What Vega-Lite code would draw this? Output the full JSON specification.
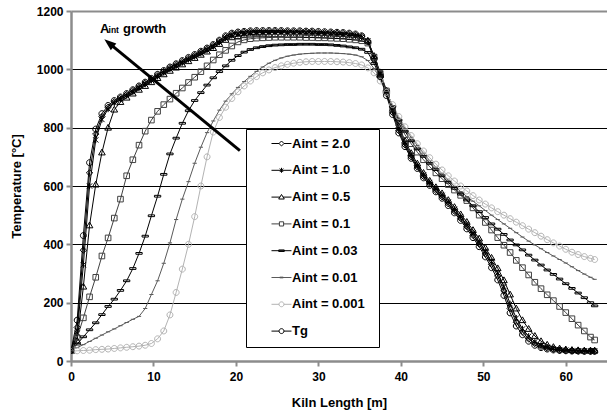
{
  "$schema": "https://vega.github.io/schema/vega-lite/v6.json",
  "width": 536,
  "height": 350,
  "autosize": {"type": "none"},
  "padding": {"left": 71, "top": 11, "right": 0, "bottom": 55},
  "config": {"view": {"stroke": null}, "font": "Liberation Sans"},
  "resolve": {"scale": {"shape": "independent", "color": "independent"}, "legend": {"shape": "independent", "color": "independent"}},
  "datasets": {
    "kiln": [
      {"x":0,"a2":35,"a1":35,"a05":35,"a01":35,"a003":35,"a001":35,"a0001":33,"tg":35},
      {"x":0.75,"a2":115,"a1":95,"a05":70,"a01":80,"a003":58,"a001":46,"a0001":35,"tg":140},
      {"x":1.5,"a2":380,"a1":330,"a05":255,"a01":148,"a003":83,"a001":56,"a0001":36,"tg":430},
      {"x":2.25,"a2":645,"a1":600,"a05":465,"a01":220,"a003":107,"a001":67,"a0001":37,"tg":680},
      {"x":3,"a2":778,"a1":758,"a05":605,"a01":287,"a003":131,"a001":78,"a0001":39,"tg":795},
      {"x":3.75,"a2":838,"a1":828,"a05":715,"a01":360,"a003":159,"a001":89,"a0001":40,"tg":848},
      {"x":4.5,"a2":870,"a1":864,"a05":800,"a01":422,"a003":187,"a001":100,"a0001":41,"tg":876},
      {"x":5.25,"a2":889,"a1":885,"a05":862,"a01":490,"a003":212,"a001":110,"a0001":43,"tg":893},
      {"x":6,"a2":902,"a1":898,"a05":888,"a01":555,"a003":242,"a001":121,"a0001":45,"tg":905},
      {"x":6.75,"a2":914,"a1":910,"a05":903,"a01":635,"a003":275,"a001":132,"a0001":47,"tg":917},
      {"x":7.5,"a2":927,"a1":923,"a05":917,"a01":690,"a003":317,"a001":143,"a0001":49,"tg":930},
      {"x":8.25,"a2":940,"a1":936,"a05":930,"a01":740,"a003":369,"a001":153,"a0001":51,"tg":943},
      {"x":9,"a2":953,"a1":949,"a05":943,"a01":788,"a003":428,"a001":180,"a0001":54,"tg":956},
      {"x":9.75,"a2":966,"a1":962,"a05":956,"a01":826,"a003":498,"a001":228,"a0001":60,"tg":969},
      {"x":10.5,"a2":980,"a1":976,"a05":970,"a01":856,"a003":565,"a001":275,"a0001":76,"tg":983},
      {"x":11.25,"a2":993,"a1":989,"a05":983,"a01":879,"a003":640,"a001":335,"a0001":103,"tg":996},
      {"x":12,"a2":1005,"a1":1001,"a05":995,"a01":898,"a003":710,"a001":405,"a0001":158,"tg":1008},
      {"x":12.75,"a2":1016,"a1":1012,"a05":1006,"a01":918,"a003":764,"a001":485,"a0001":235,"tg":1019},
      {"x":13.5,"a2":1027,"a1":1023,"a05":1017,"a01":936,"a003":815,"a001":555,"a0001":315,"tg":1030},
      {"x":14.25,"a2":1038,"a1":1034,"a05":1028,"a01":955,"a003":858,"a001":615,"a0001":400,"tg":1041},
      {"x":15,"a2":1048,"a1":1044,"a05":1039,"a01":973,"a003":893,"a001":678,"a0001":495,"tg":1051},
      {"x":15.75,"a2":1059,"a1":1055,"a05":1050,"a01":992,"a003":920,"a001":733,"a0001":600,"tg":1062},
      {"x":16.5,"a2":1070,"a1":1066,"a05":1061,"a01":1012,"a003":946,"a001":783,"a0001":700,"tg":1073},
      {"x":17.25,"a2":1082,"a1":1078,"a05":1073,"a01":1032,"a003":971,"a001":823,"a0001":785,"tg":1085},
      {"x":18,"a2":1097,"a1":1093,"a05":1087,"a01":1050,"a003":992,"a001":860,"a0001":835,"tg":1100},
      {"x":18.75,"a2":1112,"a1":1107,"a05":1101,"a01":1065,"a003":1012,"a001":891,"a0001":870,"tg":1115},
      {"x":19.5,"a2":1121,"a1":1116,"a05":1110,"a01":1080,"a003":1031,"a001":916,"a0001":900,"tg":1124},
      {"x":20.25,"a2":1125,"a1":1120,"a05":1114,"a01":1094,"a003":1047,"a001":938,"a0001":923,"tg":1128},
      {"x":21,"a2":1127,"a1":1123,"a05":1117,"a01":1101,"a003":1059,"a001":958,"a0001":943,"tg":1130},
      {"x":21.75,"a2":1129,"a1":1125,"a05":1119,"a01":1105,"a003":1068,"a001":976,"a0001":960,"tg":1132},
      {"x":22.5,"a2":1130,"a1":1126,"a05":1120,"a01":1107,"a003":1074,"a001":993,"a0001":975,"tg":1133},
      {"x":23.25,"a2":1130,"a1":1126,"a05":1120,"a01":1108,"a003":1078,"a001":1008,"a0001":988,"tg":1133},
      {"x":24,"a2":1130,"a1":1126,"a05":1120,"a01":1109,"a003":1081,"a001":1021,"a0001":998,"tg":1133},
      {"x":24.75,"a2":1130,"a1":1126,"a05":1120,"a01":1110,"a003":1083,"a001":1031,"a0001":1006,"tg":1133},
      {"x":25.5,"a2":1130,"a1":1126,"a05":1120,"a01":1110,"a003":1084,"a001":1039,"a0001":1012,"tg":1133},
      {"x":26.25,"a2":1129,"a1":1125,"a05":1119,"a01":1110,"a003":1085,"a001":1045,"a0001":1017,"tg":1132},
      {"x":27,"a2":1129,"a1":1125,"a05":1119,"a01":1110,"a003":1085,"a001":1049,"a0001":1021,"tg":1132},
      {"x":27.75,"a2":1129,"a1":1125,"a05":1119,"a01":1110,"a003":1086,"a001":1052,"a0001":1024,"tg":1132},
      {"x":28.5,"a2":1128,"a1":1124,"a05":1118,"a01":1109,"a003":1086,"a001":1054,"a0001":1026,"tg":1131},
      {"x":29.25,"a2":1128,"a1":1124,"a05":1118,"a01":1109,"a003":1086,"a001":1055,"a0001":1027,"tg":1131},
      {"x":30,"a2":1127,"a1":1123,"a05":1117,"a01":1108,"a003":1085,"a001":1056,"a0001":1027,"tg":1130},
      {"x":30.75,"a2":1126,"a1":1122,"a05":1116,"a01":1108,"a003":1085,"a001":1056,"a0001":1027,"tg":1129},
      {"x":31.5,"a2":1125,"a1":1121,"a05":1115,"a01":1107,"a003":1084,"a001":1056,"a0001":1027,"tg":1128},
      {"x":32.25,"a2":1124,"a1":1120,"a05":1114,"a01":1106,"a003":1082,"a001":1055,"a0001":1026,"tg":1127},
      {"x":33,"a2":1123,"a1":1119,"a05":1113,"a01":1105,"a003":1080,"a001":1054,"a0001":1025,"tg":1126},
      {"x":33.75,"a2":1121,"a1":1117,"a05":1111,"a01":1103,"a003":1077,"a001":1052,"a0001":1023,"tg":1124},
      {"x":34.5,"a2":1118,"a1":1115,"a05":1109,"a01":1101,"a003":1074,"a001":1049,"a0001":1020,"tg":1121},
      {"x":35.25,"a2":1113,"a1":1110,"a05":1105,"a01":1098,"a003":1069,"a001":1043,"a0001":1015,"tg":1115},
      {"x":36,"a2":1097,"a1":1098,"a05":1098,"a01":1090,"a003":1058,"a001":1030,"a0001":1005,"tg":1095},
      {"x":36.75,"a2":1040,"a1":1043,"a05":1046,"a01":1042,"a003":1020,"a001":1003,"a0001":988,"tg":1035},
      {"x":37.5,"a2":980,"a1":985,"a05":990,"a01":986,"a003":974,"a001":968,"a0001":960,"tg":975},
      {"x":38.25,"a2":917,"a1":922,"a05":928,"a01":926,"a003":925,"a001":924,"a0001":921,"tg":910},
      {"x":39,"a2":852,"a1":858,"a05":865,"a01":866,"a003":873,"a001":876,"a0001":879,"tg":845},
      {"x":39.75,"a2":790,"a1":797,"a05":805,"a01":815,"a003":826,"a001":832,"a0001":838,"tg":782},
      {"x":40.5,"a2":741,"a1":747,"a05":755,"a01":776,"a003":788,"a001":797,"a0001":803,"tg":735},
      {"x":41.25,"a2":700,"a1":706,"a05":713,"a01":745,"a003":755,"a001":767,"a0001":773,"tg":695},
      {"x":42,"a2":665,"a1":670,"a05":677,"a01":716,"a003":727,"a001":739,"a0001":745,"tg":660},
      {"x":42.75,"a2":633,"a1":638,"a05":645,"a01":690,"a003":702,"a001":712,"a0001":720,"tg":628},
      {"x":43.5,"a2":607,"a1":612,"a05":618,"a01":666,"a003":678,"a001":687,"a0001":697,"tg":602},
      {"x":44.25,"a2":585,"a1":590,"a05":596,"a01":645,"a003":656,"a001":664,"a0001":675,"tg":580},
      {"x":45,"a2":563,"a1":568,"a05":575,"a01":625,"a003":635,"a001":642,"a0001":655,"tg":558},
      {"x":45.75,"a2":539,"a1":545,"a05":552,"a01":605,"a003":613,"a001":620,"a0001":635,"tg":533},
      {"x":46.5,"a2":514,"a1":520,"a05":528,"a01":586,"a003":592,"a001":599,"a0001":617,"tg":508},
      {"x":47.25,"a2":489,"a1":495,"a05":503,"a01":568,"a003":572,"a001":581,"a0001":600,"tg":482},
      {"x":48,"a2":461,"a1":468,"a05":477,"a01":550,"a003":552,"a001":564,"a0001":583,"tg":453},
      {"x":48.75,"a2":431,"a1":439,"a05":449,"a01":525,"a003":532,"a001":548,"a0001":567,"tg":423},
      {"x":49.5,"a2":401,"a1":409,"a05":420,"a01":500,"a003":512,"a001":532,"a0001":552,"tg":392},
      {"x":50.25,"a2":367,"a1":376,"a05":388,"a01":475,"a003":492,"a001":516,"a0001":538,"tg":357},
      {"x":51,"a2":331,"a1":341,"a05":354,"a01":449,"a003":470,"a001":500,"a0001":525,"tg":320},
      {"x":51.75,"a2":291,"a1":302,"a05":318,"a01":423,"a003":452,"a001":485,"a0001":512,"tg":278},
      {"x":52.5,"a2":240,"a1":255,"a05":277,"a01":397,"a003":434,"a001":470,"a0001":500,"tg":225},
      {"x":53.25,"a2":180,"a1":196,"a05":228,"a01":372,"a003":415,"a001":455,"a0001":488,"tg":165},
      {"x":54,"a2":133,"a1":147,"a05":180,"a01":345,"a003":398,"a001":440,"a0001":476,"tg":120},
      {"x":54.75,"a2":100,"a1":110,"a05":140,"a01":320,"a003":381,"a001":425,"a0001":464,"tg":90},
      {"x":55.5,"a2":76,"a1":85,"a05":110,"a01":295,"a003":363,"a001":411,"a0001":452,"tg":68},
      {"x":56.25,"a2":60,"a1":66,"a05":86,"a01":270,"a003":346,"a001":398,"a0001":440,"tg":54},
      {"x":57,"a2":50,"a1":54,"a05":68,"a01":248,"a003":329,"a001":385,"a0001":428,"tg":46},
      {"x":57.75,"a2":44,"a1":47,"a05":56,"a01":227,"a003":312,"a001":372,"a0001":416,"tg":41},
      {"x":58.5,"a2":40,"a1":42,"a05":48,"a01":207,"a003":297,"a001":360,"a0001":405,"tg":38},
      {"x":59.25,"a2":37,"a1":39,"a05":43,"a01":187,"a003":281,"a001":348,"a0001":394,"tg":36},
      {"x":60,"a2":36,"a1":37,"a05":40,"a01":166,"a003":265,"a001":336,"a0001":383,"tg":35},
      {"x":60.75,"a2":35,"a1":36,"a05":38,"a01":145,"a003":249,"a001":323,"a0001":373,"tg":34},
      {"x":61.5,"a2":34,"a1":35,"a05":37,"a01":123,"a003":233,"a001":310,"a0001":365,"tg":34},
      {"x":62.25,"a2":34,"a1":35,"a05":36,"a01":103,"a003":217,"a001":298,"a0001":358,"tg":33},
      {"x":63,"a2":34,"a1":35,"a05":36,"a01":82,"a003":200,"a001":287,"a0001":352,"tg":33},
      {"x":63.5,"a2":34,"a1":35,"a05":36,"a01":72,"a003":189,"a001":280,"a0001":348,"tg":33}
    ]
  },
  "encoding": {
    "x": {
      "field": "x", "type": "quantitative",
      "scale": {"domain": [0, 65], "nice": false, "zero": false},
      "axis": {
        "values": [0, 10, 20, 30, 40, 50, 60],
        "title": "Kiln Length [m]",
        "grid": false,
        "domainColor": "#8c8c8c", "domainWidth": 2.5,
        "tickColor": "#8c8c8c", "tickWidth": 2, "tickSize": 5,
        "labelFont": "Liberation Sans", "labelFontWeight": "bold", "labelFontSize": 12, "labelColor": "black",
        "labelPadding": 5, "labelFlush": false,
        "titleFont": "Liberation Sans", "titleFontWeight": "bold", "titleFontSize": 13, "titleColor": "black",
        "titlePadding": 14
      }
    },
    "y": {
      "field": "y", "type": "quantitative",
      "scale": {"domain": [0, 1200], "nice": false},
      "axis": {
        "values": [0, 200, 400, 600, 800, 1000, 1200],
        "format": "d",
        "title": "Temperature [°C]",
        "grid": true,
        "gridColor": {"condition": {"test": "datum.value == 1200", "value": "#8c8c8c"}, "value": "black"},
        "gridWidth": {"condition": {"test": "datum.value == 1200", "value": 2}, "value": 1},
        "domainColor": "#8c8c8c", "domainWidth": 2.5,
        "tickColor": "#8c8c8c", "tickWidth": 2, "tickSize": 5,
        "labelFont": "Liberation Sans", "labelFontWeight": "bold", "labelFontSize": 12, "labelColor": "black",
        "labelPadding": 3,
        "titleFont": "Liberation Sans", "titleFontWeight": "bold", "titleFontSize": 13, "titleColor": "black",
        "titlePadding": 13
      }
    }
  },
  "layer": [
    {
      "data": {"name": "kiln"},
      "transform": [{"fold": ["a2", "a1", "a05", "a01", "a003", "a001", "a0001", "tg"], "as": ["s", "y"]}],
      "mark": {"type": "line", "strokeWidth": 1, "clip": true},
      "encoding": {
        "stroke": {
          "field": "s", "type": "nominal",
          "scale": {"domain": ["tg", "a0001", "a001", "a003", "a01", "a05", "a1", "a2"],
                    "range": ["#000000", "#b3b3b3", "#5a5a5a", "#000000", "#404040", "#000000", "#000000", "#000000"]},
          "legend": null
        }
      }
    },
    {
      "data": {"name": "kiln"},
      "transform": [{"fold": ["a2", "a1", "a05", "a01", "a003", "a001", "a0001", "tg"], "as": ["s", "y"]}],
      "mark": {"type": "point", "filled": false, "strokeWidth": 1, "size": 49, "opacity": 1, "clip": true},
      "encoding": {
        "stroke": {
          "field": "s", "type": "nominal",
          "scale": {"domain": ["tg", "a0001", "a001", "a003", "a01", "a05", "a1", "a2"],
                    "range": ["#000000", "#b3b3b3", "#5a5a5a", "#000000", "#404040", "#000000", "#000000", "#000000"]},
          "legend": null
        },
        "shape": {
          "field": "s", "type": "nominal",
          "scale": {"domain": ["tg", "a0001", "a001", "a003", "a01", "a05", "a1", "a2"],
                    "range": [
                      "M0.85,0A0.85,0.85,0,1,1,-0.85,0A0.85,0.85,0,1,1,0.85,0",
                      "M0.85,0A0.85,0.85,0,1,1,-0.85,0A0.85,0.85,0,1,1,0.85,0",
                      "M-0.6,0H0.6",
                      "M-0.9,-0.25H0.9V0.25H-0.9Z",
                      "M-0.8,-0.8H0.8V0.8H-0.8Z",
                      "M0,-0.95L0.95,0.7L-0.95,0.7Z",
                      "M0,-0.9V0.9M-0.75,-0.75L0.75,0.75M-0.75,0.75L0.75,-0.75",
                      "M0,-0.9L0.9,0L0,0.9L-0.9,0Z"
                    ]},
          "legend": null
        }
      }
    },
    {
      "data": {"name": "kiln"},
      "transform": [{"fold": ["a2", "a1", "a05", "a01", "a003", "a001", "a0001", "tg"], "as": ["s", "y"]}],
      "mark": {"type": "point", "filled": false, "opacity": 0, "size": 49},
      "encoding": {
        "color": {
          "field": "s", "type": "nominal",
          "scale": {"domain": ["a2", "a1", "a05", "a01", "a003", "a001", "a0001", "tg"],
                    "range": ["#000000", "#000000", "#000000", "#404040", "#000000", "#5a5a5a", "#b3b3b3", "#000000"]},
          "legend": {
            "orient": "none", "legendX": 175, "legendY": 118,
            "title": "\u00a0", "titleOrient": "right", "titlePadding": 6, "titleFontSize": 13,
            "padding": 8, "rowPadding": 12.8, "labelOffset": 25,
            "symbolSize": 49, "symbolStrokeWidth": 1, "symbolOpacity": 1,
            "labelFont": "Liberation Sans", "labelFontSize": 13, "labelFontWeight": "bold", "labelColor": "black",
            "strokeColor": "black", "fillColor": "white",
            "labelExpr": "datum.value == 'a2' ? 'Aint = 2.0' : datum.value == 'a1' ? 'Aint = 1.0' : datum.value == 'a05' ? 'Aint = 0.5' : datum.value == 'a01' ? 'Aint = 0.1' : datum.value == 'a003' ? 'Aint = 0.03' : datum.value == 'a001' ? 'Aint = 0.01' : datum.value == 'a0001' ? 'Aint = 0.001' : 'Tg'"
          }
        },
        "shape": {
          "field": "s", "type": "nominal",
          "scale": {"domain": ["a2", "a1", "a05", "a01", "a003", "a001", "a0001", "tg"],
                    "range": [
                      "M3.14,0H5.29M6.71,0H8.85M6,-0.71L6.71,0L6,0.71L5.29,0Z",
                      "M3.14,0H8.85M6,-0.71V0.71M5.5,-0.5L6.5,0.5M5.5,0.5L6.5,-0.5",
                      "M3.14,0H5.54M6.46,0H8.85M6,-0.75L6.8,0.55L5.2,0.55Z",
                      "M3.14,0H5.4M6.6,0H8.85M5.4,-0.6H6.6V0.6H5.4Z",
                      "M3.14,0H8.85M5.2,-0.22H6.8V0.22H5.2Z",
                      "M3.14,0H8.85M5.5,-0.1H6.5V0.1H5.5Z",
                      "M3.14,0H5.3M6.7,0H8.85M6.7,0A0.7,0.7,0,1,1,5.3,0A0.7,0.7,0,1,1,6.7,0",
                      "M3.14,0H5.3M6.7,0H8.85M6.7,0A0.7,0.7,0,1,1,5.3,0A0.7,0.7,0,1,1,6.7,0"
                    ]},
          "legend": {
            "orient": "none", "legendX": 175, "legendY": 118,
            "title": "\u00a0", "titleOrient": "right", "titlePadding": 6, "titleFontSize": 13,
            "padding": 8, "rowPadding": 12.8, "labelOffset": 25,
            "symbolSize": 49, "symbolStrokeWidth": 1, "symbolOpacity": 1,
            "labelFont": "Liberation Sans", "labelFontSize": 13, "labelFontWeight": "bold", "labelColor": "black",
            "strokeColor": "black", "fillColor": "white",
            "labelExpr": "datum.value == 'a2' ? 'Aint = 2.0' : datum.value == 'a1' ? 'Aint = 1.0' : datum.value == 'a05' ? 'Aint = 0.5' : datum.value == 'a01' ? 'Aint = 0.1' : datum.value == 'a003' ? 'Aint = 0.03' : datum.value == 'a001' ? 'Aint = 0.01' : datum.value == 'a0001' ? 'Aint = 0.001' : 'Tg'"
          }
        }
      }
    },
    {
      "data": {"values": [{"x": 20.48, "y": 721, "x2": 4.97, "y2": 1081}]},
      "mark": {"type": "rule", "strokeWidth": 3, "color": "black"},
      "encoding": {"x2": {"field": "x2"}, "y2": {"field": "y2"}}
    },
    {
      "data": {"values": [{"x": 4.04, "y": 1103}]},
      "mark": {"type": "point", "shape": "M0,0L0.36,1L-0.36,1Z", "size": 576, "angle": 309.5, "filled": true, "color": "black", "opacity": 1},
      "encoding": {}
    },
    {
      "data": {"values": [{"x": 3.52, "y": 1126, "t": "A"}]},
      "mark": {"type": "text", "align": "left", "baseline": "alphabetic", "font": "Liberation Sans", "fontWeight": "bold", "fontSize": 13, "color": "black"},
      "encoding": {"text": {"field": "t"}}
    },
    {
      "data": {"values": [{"x": 4.55, "y": 1126, "t": "int"}]},
      "mark": {"type": "text", "align": "left", "baseline": "alphabetic", "font": "Liberation Sans", "fontWeight": "bold", "fontSize": 8.5, "color": "black"},
      "encoding": {"text": {"field": "t"}}
    },
    {
      "data": {"values": [{"x": 6.3, "y": 1126, "t": "growth"}]},
      "mark": {"type": "text", "align": "left", "baseline": "alphabetic", "font": "Liberation Sans", "fontWeight": "bold", "fontSize": 13, "color": "black"},
      "encoding": {"text": {"field": "t"}}
    }
  ]
}
